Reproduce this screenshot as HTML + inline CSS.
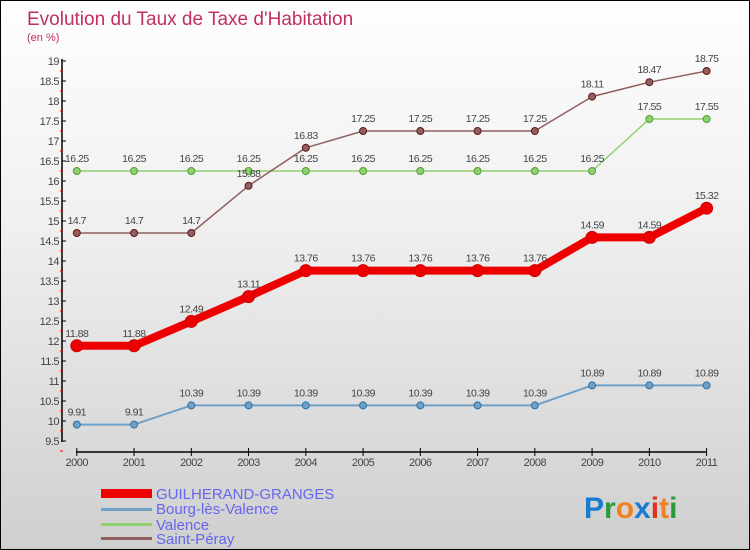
<!DOCTYPE html>
<html><head><meta charset="utf-8"><style>
body{margin:0;}
#wrap{width:748px;height:548px;border:1px solid #000;background:linear-gradient(#fefefe,#f0f0f0 40%,#cfcfcf);position:relative;overflow:hidden;font-family:"Liberation Sans",sans-serif;}
svg{position:absolute;left:0;top:0;}
</style></head><body>
<div id="wrap">
<svg id="c" width="750" height="550">
<text x="26" y="24" font-size="19" fill="#c0305f">Evolution du Taux de Taxe d'Habitation</text>
<text x="26" y="40" font-size="11" fill="#c0305f">(en %)</text>
<g id="axes"></g><g id="series"></g>
<g>
<rect x="100" y="488" width="51" height="9" fill="#e00"/>
<text x="155" y="498" font-size="15" fill="#6666ee">GUILHERAND-GRANGES</text>
<rect x="100" y="507" width="51" height="3" fill="#6fa0c8"/>
<text x="155" y="513" font-size="15" fill="#6666ee">Bourg-lès-Valence</text>
<rect x="100" y="522" width="51" height="3" fill="#90d070"/>
<text x="155" y="529" font-size="15" fill="#6666ee">Valence</text>
<rect x="100" y="536" width="51" height="3" fill="#906060"/>
<text x="155" y="543" font-size="15" fill="#6666ee">Saint-Péray</text>
</g>
<text x="583" y="517" font-size="30" font-weight="bold"><tspan fill="#1a7cd0">P</tspan><tspan fill="#2a9a3a">r</tspan><tspan fill="#f08020">o</tspan><tspan fill="#1a7cd0">x</tspan><tspan fill="#e03020">i</tspan><tspan fill="#f08020">t</tspan><tspan fill="#2a9a3a">i</tspan></text>
</svg></div>
<script>
const years=[2000,2001,2002,2003,2004,2005,2006,2007,2008,2009,2010,2011];
const guilherand=[11.88,11.88,12.49,13.11,13.76,13.76,13.76,13.76,13.76,14.59,14.59,15.32];
const bourg=[9.91,9.91,10.39,10.39,10.39,10.39,10.39,10.39,10.39,10.89,10.89,10.89];
const valence=[16.25,16.25,16.25,16.25,16.25,16.25,16.25,16.25,16.25,16.25,17.55,17.55];
const saintPeray=[14.7,14.7,14.7,15.88,16.83,17.25,17.25,17.25,17.25,18.11,18.47,18.75];
const yTicks=[9.5,10,10.5,11,11.5,12,12.5,13,13.5,14,14.5,15,15.5,16,16.5,17,17.5,18,18.5,19];
const NS="http://www.w3.org/2000/svg";
const xS=i=>75.8+i*(705.6-75.8)/11;
const yS=v=>60+(19-v)*40;
function mk(p,t,a){const e=document.createElementNS(NS,t);for(const k in a)e.setAttribute(k,a[k]);p.appendChild(e);return e;}
const ax=document.getElementById('axes'),sg=document.getElementById('series');
let e=mk(ax,'line',{x1:61,y1:58,x2:61,y2:441,stroke:'#000','stroke-width':1.5});


e=mk(ax,'line',{x1:75,y1:451,x2:706,y2:451,stroke:'#000','stroke-width':1.5});


yTicks.forEach(v=>{const y=yS(v);
 mk(ax,'line',{x1:61,y1:y,x2:65,y2:y,stroke:'#000'});
 mk(ax,'line',{x1:59,y1:y+10,x2:62,y2:y+10,stroke:'#e00'});
 const t=mk(ax,'text',{x:58,y:y+4,'font-size':11,'text-anchor':'end',fill:'#444','letter-spacing':'-0.5'});t.textContent=String(v);
 
 });
years.forEach((yr,i)=>{const x=xS(i);
 mk(ax,'line',{x1:x,y1:447,x2:x,y2:455,stroke:'#000'});
 const t=mk(ax,'text',{x:x,y:465,'font-size':11,'text-anchor':'middle',fill:'#444','letter-spacing':'-0.5'});t.textContent=yr;
 
 });
function series(data,name,col,dark,w,r){
 const g=mk(sg,'g',{});
 
 
 mk(g,'polyline',{points:data.map((v,i)=>xS(i)+','+yS(v)).join(' '),fill:'none',stroke:col,'stroke-width':w,'stroke-linejoin':'round'});
 data.forEach((v,i)=>{const c=mk(g,'circle',{cx:xS(i),cy:yS(v),r:r,fill:col,stroke:dark,'stroke-width':1});
  
  
  const t=mk(g,'text',{x:xS(i),y:yS(v)-9,'font-size':10.5,'text-anchor':'middle',fill:'#444','letter-spacing':'-0.5'});t.textContent=String(v);
  
  });
}
series(bourg,'bourg-les-valence','#6fa0c8','#3070a0',2,3.5);
series(valence,'valence','#90d070','#50a030',1.5,3.5);
series(saintPeray,'saint-peray','#906060','#601818',1.5,3.5);
series(guilherand,'guilherand-granges','#e00','#c00',8,6);
</script></body></html>
